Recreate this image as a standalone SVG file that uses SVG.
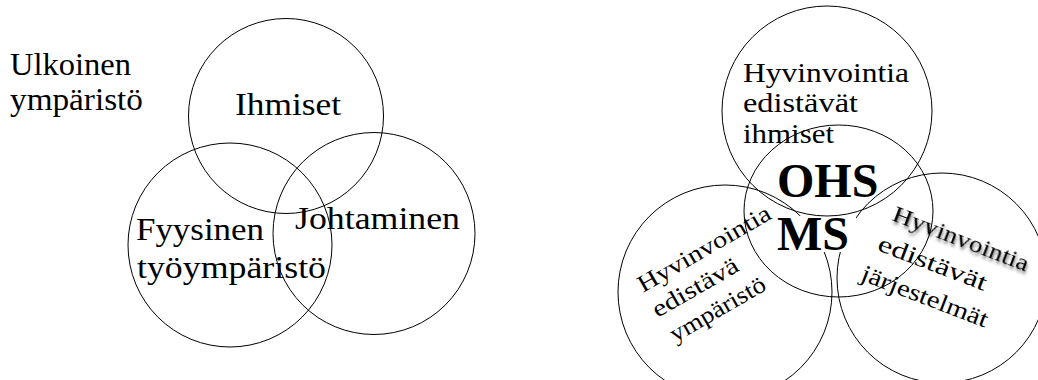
<svg xmlns="http://www.w3.org/2000/svg" width="1038" height="380" viewBox="0 0 1038 380">
  <style>
    .c { fill: none; stroke: #000; stroke-width: 1; }
    .t { font-family: "Liberation Serif", "DejaVu Serif", "Times New Roman", serif; fill: #000; }
    .l { font-size: 31px; }
    .m { font-size: 27px; }
    .s { font-size: 24px; }
    .b { font-family: "Liberation Serif", "DejaVu Serif", "Times New Roman", serif; font-weight: bold; font-size: 48px; fill: #000; }
  </style>
  <defs>
    <filter id="shadow" x="-10%" y="-40%" width="130%" height="190%">
      <feDropShadow dx="1.5" dy="2.5" stdDeviation="1.6" flood-color="#000" flood-opacity="0.55"/>
    </filter>
  </defs>

  <!-- Left diagram -->
  <g id="ulkoinen">
    <text class="t l" x="10" y="75" textLength="121" lengthAdjust="spacingAndGlyphs">Ulkoinen</text>
    <text class="t l" x="10" y="110" textLength="133" lengthAdjust="spacingAndGlyphs">ympäristö</text>
  </g>
  <g id="ihmiset">
    <circle class="c" cx="286" cy="116" r="97.5"/>
    <text class="t l" x="235" y="115" textLength="106" lengthAdjust="spacingAndGlyphs">Ihmiset</text>
  </g>
  <g id="fyysinen">
    <circle class="c" cx="230" cy="245" r="102"/>
    <text class="t l" x="136" y="240" textLength="128" lengthAdjust="spacingAndGlyphs">Fyysinen</text>
    <text class="t l" x="137" y="278" textLength="189" lengthAdjust="spacingAndGlyphs">työympäristö</text>
  </g>
  <g id="johtaminen">
    <circle class="c" cx="374" cy="233.5" r="101"/>
    <text class="t l" x="295" y="229" textLength="165" lengthAdjust="spacingAndGlyphs">Johtaminen</text>
  </g>

  <!-- Right diagram -->
  <g id="ymparisto">
    <circle class="c" cx="725" cy="292" r="107"/>
  </g>
  <g id="jarjestelmat">
    <circle class="c" cx="942" cy="278" r="105"/>
  </g>
  <rect x="776" y="216" width="80" height="36" fill="#fff"/>
  <g id="ihmiset-oikea">
    <circle class="c" cx="827" cy="111" r="105"/>
    <text class="t m" x="743" y="82" textLength="166" lengthAdjust="spacingAndGlyphs">Hyvinvointia</text>
    <text class="t m" x="743" y="112" textLength="115" lengthAdjust="spacingAndGlyphs">edistävät</text>
    <text class="t m" x="743" y="143" textLength="91" lengthAdjust="spacingAndGlyphs">ihmiset</text>
  </g>
  <g id="ohsms">
    <ellipse class="c" cx="838.5" cy="211" rx="94.5" ry="86"/>
    <text class="b" x="777" y="197">OHS</text>
    <text class="b" x="777" y="250">MS</text>
  </g>
  <g id="ymparisto-teksti" transform="translate(643,293) rotate(-30)">
    <text class="t s" x="0" y="0" textLength="150" lengthAdjust="spacingAndGlyphs">Hyvinvointia</text>
    <text class="t s" x="0" y="29" textLength="96" lengthAdjust="spacingAndGlyphs">edistävä</text>
    <text class="t s" x="3" y="59" textLength="107" lengthAdjust="spacingAndGlyphs">ympäristö</text>
  </g>
  <g id="jarjestelmat-teksti" transform="translate(891,220) rotate(21)">
    <text class="t s" x="0" y="0" textLength="144" lengthAdjust="spacingAndGlyphs" filter="url(#shadow)">Hyvinvointia</text>
    <text class="t s" x="-3" y="33" textLength="115" lengthAdjust="spacingAndGlyphs">edistävät</text>
    <text class="t s" x="-8" y="67" textLength="134" lengthAdjust="spacingAndGlyphs">järjestelmät</text>
  </g>

  <g id="connectors"/>
</svg>
